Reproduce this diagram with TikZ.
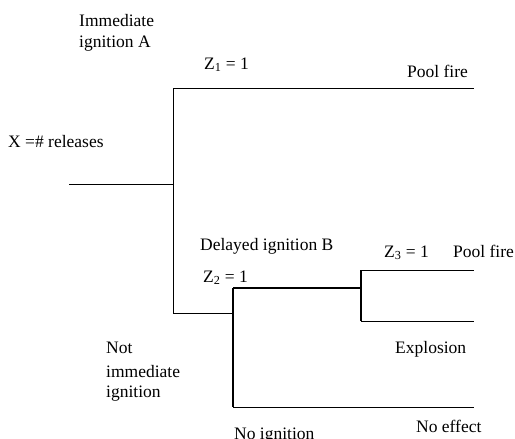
\documentclass[tikz,border=0pt]{standalone}
\usepackage{fontspec}
\setmainfont{Liberation Serif}
\begin{document}
\begin{tikzpicture}[x=1pt,y=-1pt,
  lbl/.style={anchor=base west,inner sep=0pt,font=\fontsize{17.5}{21}\selectfont},
  thin/.style={line width=0.9pt},
  thick2/.style={line width=1.5pt}]
\useasboundingbox (0,0) rectangle (515,439);
% junction coordinates
\coordinate (s) at (69,184);
\coordinate (j1) at (173,184);
\coordinate (j1t) at (173,88);
\coordinate (j1b) at (173,313);
\coordinate (e1) at (474,88);
\coordinate (j2) at (233,313);
\coordinate (j2t) at (233,288);
\coordinate (j2b) at (233,407);
\coordinate (j3) at (361,288);
\coordinate (j3t) at (361,270);
\coordinate (j3b) at (361,321);
\coordinate (e3t) at (474,270);
\coordinate (e3b) at (474,321);
\coordinate (e2b) at (474,407);
% connectors
\draw[thin] (s) -- (j1);
\draw[thin] (j1t) -- (j1b);
\draw[thin] (j1t) -- (e1);
\draw[thin] (j1b) -- (j2);
\draw[thick2] (j2t) -- (j2b);
\draw[thick2] (j2t) -- (j3);
\draw[thick2] (j3t) -- (j3b);
\draw[thin] (j3t) -- (e3t);
\draw[thin] (j3b) -- (e3b);
\draw[thin] (j2b) -- (e2b);
% labels
\node[lbl] (ia1) at (79,27) {Immediate};
\node[lbl] (ia2) at (79,47) {ignition A};
\node[lbl] (z1) at (204,69) {Z\textsubscript{1} = 1};
\node[lbl] (pf1) at (407,77) {Pool fire};
\node[lbl] (x) at (8,147) {X =\# releases};
\node[lbl] (db) at (200,250) {Delayed ignition B};
\node[lbl] (z2) at (203,282) {Z\textsubscript{2} = 1};
\node[lbl] (z3) at (384,257) {Z\textsubscript{3} = 1};
\node[lbl] (pf2) at (453,257) {Pool fire};
\node[lbl] (ex) at (395,353) {Explosion};
\node[lbl] (n1) at (106,353) {Not};
\node[lbl] (n2) at (106,377) {immediate};
\node[lbl] (n3) at (106,397) {ignition};
\node[lbl] (ni) at (234,439) {No ignition};
\node[lbl] (ne) at (416,432) {No effect};
\end{tikzpicture}
\end{document}
